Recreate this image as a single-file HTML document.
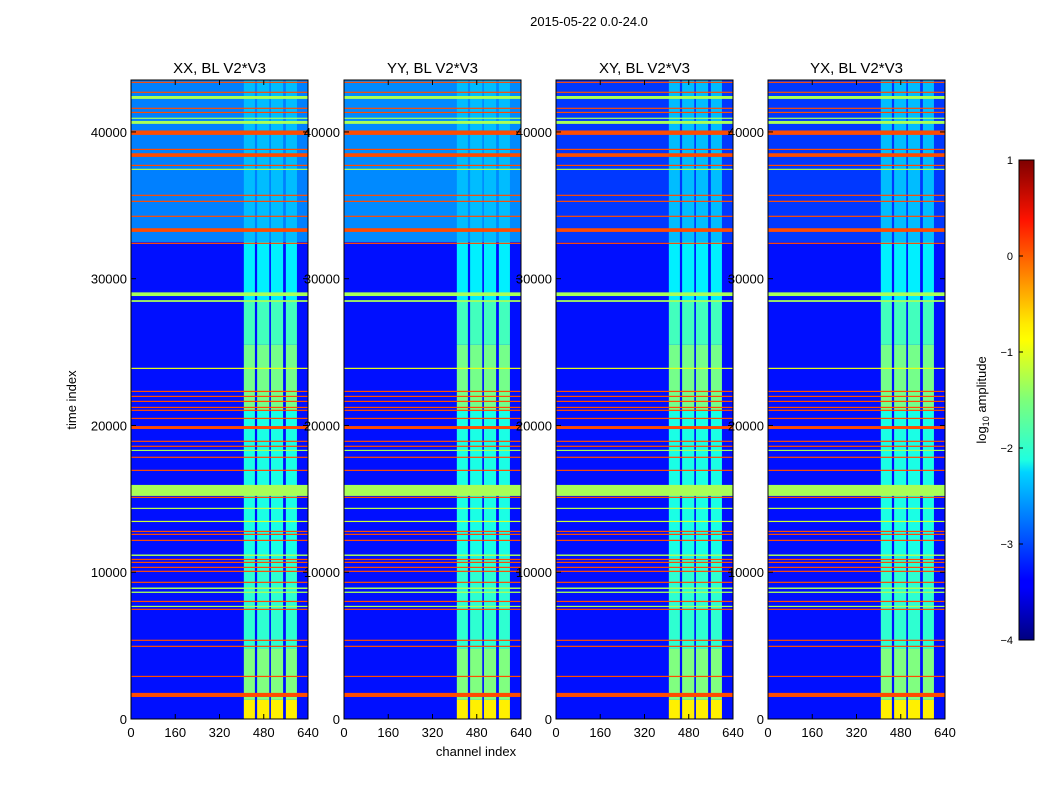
<!DOCTYPE html>
<html><head><meta charset="utf-8"><style>
body{margin:0;background:#fff;width:1050px;height:800px;overflow:hidden;font-family:"Liberation Sans",sans-serif}
</style></head><body>
<svg id="fig" width="1050" height="800" xmlns="http://www.w3.org/2000/svg">
<defs><linearGradient id="jet" x1="0" y1="1" x2="0" y2="0">
<stop offset="0" stop-color="#00007f"/><stop offset="0.11" stop-color="#0000ff"/><stop offset="0.125" stop-color="#0000ff"/>
<stop offset="0.35" stop-color="#00d4ff"/><stop offset="0.375" stop-color="#1fffe0"/><stop offset="0.5" stop-color="#7dff7a"/>
<stop offset="0.625" stop-color="#ffff00"/><stop offset="0.66" stop-color="#ffea00"/><stop offset="0.875" stop-color="#ff1300"/><stop offset="1" stop-color="#7f0000"/>
</linearGradient></defs>
<text x="589" y="26" font-size="13" text-anchor="middle">2015-05-22 0.0-24.0</text>
<text transform="translate(76,400) rotate(-90)" font-size="13" text-anchor="middle">time index</text>
<text x="476" y="756" font-size="13" text-anchor="middle">channel index</text>
<g id="panels"></g>
<g>
<rect x="1019" y="160" width="15" height="480" fill="url(#jet)" stroke="#000" stroke-width="1"/>
<g id="cbticks"></g>
<text transform="translate(986,400) rotate(-90)" font-size="13" text-anchor="middle">log<tspan font-size="9" dy="3">10</tspan><tspan dy="-3"> amplitude</tspan></text>
</g>
</svg>
<script>
const panelTitles=["XX, BL V2*V3","YY, BL V2*V3","XY, BL V2*V3","YX, BL V2*V3"];
const yTicks=[0,10000,20000,30000,40000];
const xTicks=[0,160,320,480,640];
const cbTicks=[1,0,-1,-2,-3,-4];
// background levels (log10 amplitude): lower segment and upper segment
const bgLow=[-3.3,-3.3,-3.3,-3.3];
const bgHigh=[-2.75,-2.7,-3.1,-3.1];
const splitTime=32500;
// channel bands [start,end]
const bandChans=[[408,448],[456,500],[506,550],[560,600]];
// band time segments [tStart,tEnd,level]
const bandSegs=[[0,1300,-0.8],[1300,4800,-1.5],[4800,11000,-1.9],[11000,21000,-2.0],[21000,25500,-1.55],[25500,28500,-1.8],[28500,32500,-2.2],[32500,43540,-2.45]];
// horizontal RFI lines [time, thickness, level]
const lines=[[43340,80,0],[42660,80,0],[42250,200,-1.3],[41570,70,0],[41290,70,0],[40890,80,-1.3],[40550,200,-1.3],[39800,300,0],[38770,80,0],[38300,250,0],[37680,70,0],[37410,80,-1.3],[35640,80,0],[35230,80,0],[34210,70,0],[33190,250,0],[32370,80,0],[28820,250,-1.3],[28420,120,-1.3],[23850,60,-1.0],[22280,80,0],[21940,70,0],[21600,70,0],[21190,70,0],[20990,70,0],[20440,80,0],[19760,200,0],[18880,80,0],[18540,70,0],[18260,80,-1.3],[17790,80,0],[16900,80,0],[15200,750,-1.3],[15060,80,0],[14310,60,-1.2],[13420,60,-1.1],[12740,80,0],[12540,70,0],[12130,80,0],[11110,100,-1.3],[10830,70,0],[10630,70,0],[10290,70,0],[10020,70,0],[9270,80,0],[8860,100,-1.3],[8590,90,-1.3],[7970,80,0],[7630,80,-1.3],[7430,80,0],[5320,60,0],[4910,60,0],[2860,60,0],[1500,280,0]];
const vmin=-4,vmax=1;
function jet(v){let x=(v-vmin)/(vmax-vmin);x=Math.max(0,Math.min(1,x));
 const c=t=>Math.round(255*Math.max(0,Math.min(1,1.5-Math.abs(4*x-t))));
 return `rgb(${c(3)},${c(2)},${c(1)})`;}
const NS="http://www.w3.org/2000/svg";
const panelX=[131,344,556,768],W=177,Y0=719,Y1=80,tMax=43540;
const g=document.getElementById('panels');
function mk(tag,attrs,parent){const e=document.createElementNS(NS,tag);for(const k in attrs)e.setAttribute(k,attrs[k]);parent.appendChild(e);return e;}
panelX.forEach((px,i)=>{
 const xs=c=>px+c/640*W;
 const ys=t=>Y0-t/tMax*(Y0-Y1);
 const pg=mk('g',{},g);
 
 
 const hm=mk('g',{},pg);
 
 
 const r1=mk('rect',{x:px,y:ys(splitTime),width:W,height:ys(0)-ys(splitTime),fill:jet(bgLow[i])},hm);
 
 
 const r2=mk('rect',{x:px,y:ys(tMax),width:W,height:ys(splitTime)-ys(tMax),fill:jet(bgHigh[i])},hm);
 
 
 bandSegs.forEach(s=>bandChans.forEach(b=>{
  const r=mk('rect',{x:xs(b[0]),y:ys(s[1]),width:xs(b[1])-xs(b[0]),height:ys(s[0])-ys(s[1]),fill:jet(s[2])},hm);
  
  
 }));
 lines.forEach(l=>{
  const h=Math.max(1.2,ys(0)-ys(l[1]));
  const r=mk('rect',{x:px,y:ys(l[0])-h,width:W,height:h,fill:jet(l[2])},hm);
  
  
 });
 mk('rect',{x:px,y:Y1,width:W,height:Y0-Y1,fill:'none',stroke:'#000','stroke-width':1},pg);
 const t=mk('text',{x:px+W/2,y:73,'font-size':15,'text-anchor':'middle'},pg);
 t.textContent=panelTitles[i];
 
 
 yTicks.forEach(v=>{
  mk('line',{x1:px,x2:px+5,y1:ys(v),y2:ys(v),stroke:'#000'},pg);
  mk('line',{x1:px+W,x2:px+W-5,y1:ys(v),y2:ys(v),stroke:'#000'},pg);
  const tx=mk('text',{x:px-4,y:ys(v)+5,'font-size':13,'text-anchor':'end'},pg);
  tx.textContent=v;
  
  
 });
 xTicks.forEach(v=>{
  mk('line',{x1:xs(v),x2:xs(v),y1:Y0,y2:Y0-5,stroke:'#000'},pg);
  mk('line',{x1:xs(v),x2:xs(v),y1:Y1,y2:Y1+5,stroke:'#000'},pg);
  const tx=mk('text',{x:xs(v),y:737,'font-size':13,'text-anchor':'middle'},pg);
  tx.textContent=v;
  
  
 });
});
const cb=document.getElementById('cbticks');
cbTicks.forEach(v=>{
 const y=640-(v-vmin)/(vmax-vmin)*480;
 mk('line',{x1:1019,x2:1023,y1:y,y2:y,stroke:'#000'},cb);
 const tx=mk('text',{x:1013,y:y+4,'font-size':11,'text-anchor':'end'},cb);
 tx.textContent=v<0?'\u2212'+(-v):v;
 
 
});
</script>
</body></html>
